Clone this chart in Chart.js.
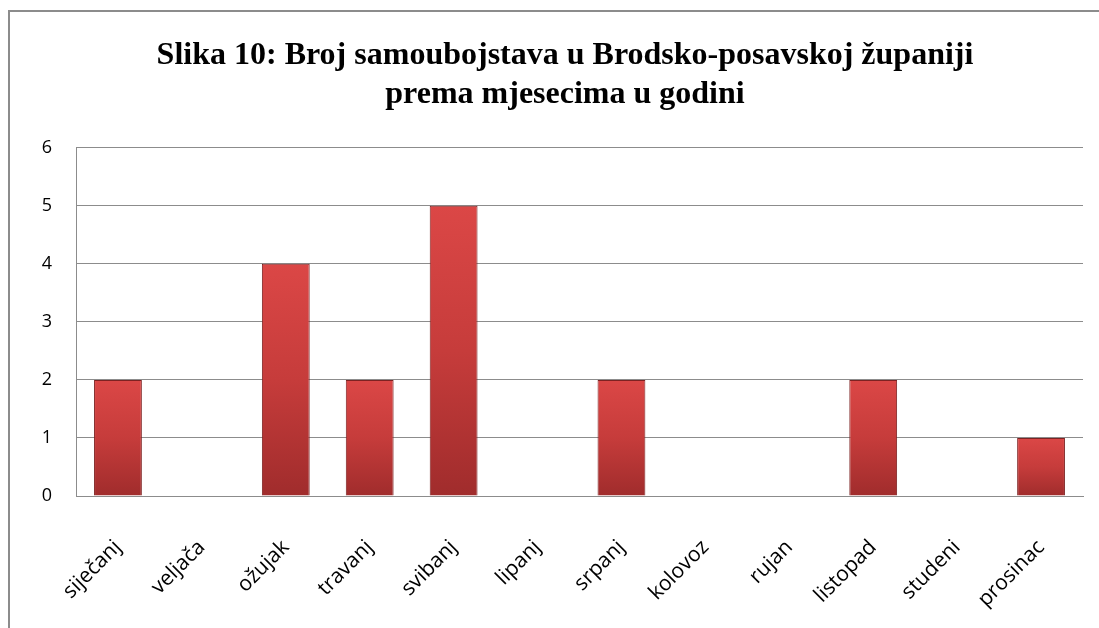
<!DOCTYPE html>
<html>
<head>
<meta charset="utf-8">
<script src="https://cdn.jsdelivr.net/npm/chart.js@4"></script>
<style>
  html, body { margin: 0; padding: 0; background: #fff; overflow: hidden; }
  #frame {
    position: absolute; left: 8px; top: 10px;
    width: 1110px; height: 640px;
    border: 2px solid #8c8c8c; border-right: none; border-bottom: none;
    background: #fff;
  }
  #chart { display: block; }
</style>
</head>
<body>
<div id="frame"><canvas id="chart" width="1110" height="616"></canvas></div>
<script>
const months = ['siječanj', 'veljača', 'ožujak', 'travanj', 'svibanj', 'lipanj',
                'srpanj', 'kolovoz', 'rujan', 'listopad', 'studeni', 'prosinac'];
const counts = [2, 0, 4, 2, 5, 0, 2, 0, 0, 2, 0, 1];
const yTicks = [0, 1, 2, 3, 4, 5, 6];
const titleLines = ['Slika 10: Broj samoubojstava u Brodsko-posavskoj županiji',
                    'prema mjesecima u godini'];

// vertical shading for each bar, light at top, darker at base
function barFill(c) {
  const chart = c.chart;
  const area = chart.chartArea;
  if (!area) return '#c83c3c';
  const y = chart.scales.y;
  const top = y.getPixelForValue(c.raw || 0);
  const bottom = y.getPixelForValue(0);
  if (bottom - top < 1) return '#c83c3c';
  const g = chart.ctx.createLinearGradient(0, top, 0, bottom);
  g.addColorStop(0, '#db4746');
  g.addColorStop(0.5, '#c63c3b');
  g.addColorStop(1, '#a02c2c');
  return g;
}

const ctx = document.getElementById('chart').getContext('2d');
new Chart(ctx, {
  type: 'bar',
  data: {
    labels: months,
    datasets: [{
      data: counts,
      backgroundColor: barFill,
      borderColor: '#7d2222',
      borderWidth: 1,
      categoryPercentage: 1,
      barPercentage: 0.57,
    }],
  },
  options: {
    responsive: false,
    animation: false,
    layout: { padding: 0 },
    plugins: {
      legend: { display: false },
      tooltip: { enabled: false },
      title: {
        display: true,
        text: titleLines,
        color: '#000',
        font: { family: '"Liberation Serif", "Times New Roman", serif', size: 32, weight: 'bold' },
        lineHeight: 1.13,
        padding: { top: 25, bottom: 34 },
      },
    },
    scales: {
      x: {
        // right gap only for the plot, so the title stays centred on the full width
        afterFit: s => { s.height = 132; s.paddingRight = 37; },
        grid: { display: false, drawTicks: false },
        border: { display: true, color: '#8c8c8c', width: 1 },
        ticks: {
          color: '#000',
          font: { family: '"Open Sans", sans-serif', size: 21 },
          minRotation: 45, maxRotation: 45,
          padding: 39,
        },
      },
      y: {
        min: 0, max: 6,
        afterBuildTicks: s => { s.ticks = yTicks.map(v => ({ value: v })); },
        afterFit: s => { s.width = 66; },
        grid: { color: '#8c8c8c', drawTicks: false },
        border: { display: true, color: '#8c8c8c', width: 1 },
        ticks: {
          color: '#000',
          font: { family: '"Open Sans", sans-serif', size: 18 },
          padding: 24,
        },
      },
    },
  },
});
</script>
</body>
</html>
